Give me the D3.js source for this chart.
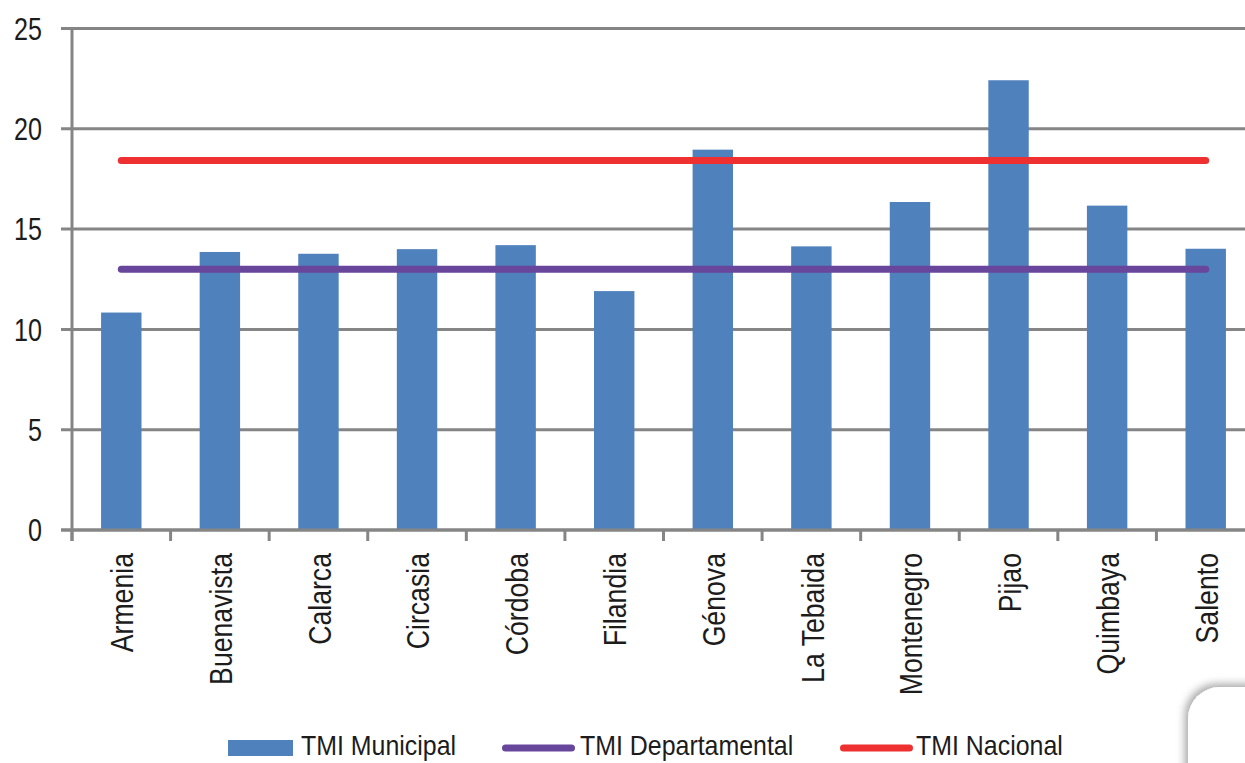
<!DOCTYPE html>
<html>
<head>
<meta charset="utf-8">
<script src="https://cdn.jsdelivr.net/npm/d3@7"></script>
<style>
  html, body { margin: 0; padding: 0; background: #fff; }
  svg { display: block; font-family: "Liberation Sans", Arial, sans-serif; }
</style>
</head>
<body>
<svg id="chart" width="1245" height="763"></svg>
<script>
// municipalities and TMI values
const municipios = ["Armenia", "Buenavista", "Calarca", "Circasia", "Córdoba", "Filandia",
                    "Génova", "La Tebaida", "Montenegro", "Pijao", "Quimbaya", "Salento"];
const tmiMunicipal = [10.84, 13.86, 13.77, 14.0, 14.2, 11.91, 18.96, 14.14, 16.35, 22.42, 16.17, 14.02];
const tmiDepartamental = [13.0, 13.0, 13.0, 13.0, 13.0, 13.0, 13.0, 13.0, 13.0, 13.0, 13.0, 13.0];
const tmiNacional = [18.42, 18.42, 18.42, 18.42, 18.42, 18.42, 18.42, 18.42, 18.42, 18.42, 18.42, 18.42];
const yTicks = [0, 5, 10, 15, 20, 25];
const legendLabels = ["TMI Municipal", "TMI Departamental", "TMI Nacional"];

const colors = { bar: "#4f81bd", depto: "#67469b", nac: "#ee3030", grid: "#858585", text: "#1c1c1c" };

const svg = d3.select("#chart");
const margin = { left: 72, top: 28.5, bottom: 233 };
const height = 763 - margin.top - margin.bottom;

const x = d3.scaleBand().domain(municipios).range([margin.left, 1255]).paddingInner(0.59).paddingOuter(0.295);
const y = d3.scaleLinear().domain([0, 25]).range([margin.top + height, margin.top]);
const cx = d => x(d) + x.bandwidth() / 2;

// gridlines
svg.append("g")
  .selectAll("line")
  .data(yTicks)
  .join("line")
  .attr("x1", margin.left - 11).attr("x2", 1245)
  .attr("y1", d => y(d)).attr("y2", d => y(d))
  .attr("stroke", colors.grid).attr("stroke-width", 3);

// y tick labels (condensed look)
svg.append("g")
  .selectAll("text")
  .data(yTicks)
  .join("text")
  .attr("transform", d => `translate(42,${y(d)}) scale(0.81,1)`)
  .attr("dy", "0.36em")
  .attr("text-anchor", "end")
  .style("font-size", "31px")
  .attr("fill", colors.text)
  .text(d => d);

// bars
svg.append("g")
  .selectAll("rect")
  .data(municipios)
  .join("rect")
  .attr("x", d => x(d))
  .attr("width", x.bandwidth())
  .attr("y", (d, i) => y(tmiMunicipal[i]))
  .attr("height", (d, i) => y(0) - y(tmiMunicipal[i]))
  .attr("fill", colors.bar);

// axes lines
svg.append("line")
  .attr("x1", margin.left).attr("x2", margin.left)
  .attr("y1", y(25) - 1.5).attr("y2", y(0) + 11)
  .attr("stroke", colors.grid).attr("stroke-width", 3);
svg.append("line")
  .attr("x1", margin.left - 11).attr("x2", 1245)
  .attr("y1", y(0)).attr("y2", y(0))
  .attr("stroke", colors.grid).attr("stroke-width", 3);

// category ticks
const step = x.step();
svg.append("g")
  .selectAll("line")
  .data(municipios)
  .join("line")
  .attr("x1", d => cx(d) - step / 2).attr("x2", d => cx(d) - step / 2)
  .attr("y1", y(0)).attr("y2", y(0) + 11)
  .attr("stroke", colors.grid).attr("stroke-width", 3);

// reference lines
const line = d3.line().x(d => cx(d.m)).y(d => y(d.v));
[[tmiDepartamental, colors.depto], [tmiNacional, colors.nac]].forEach(([vals, c]) => {
  svg.append("path")
    .datum(municipios.map((m, i) => ({ m, v: vals[i] })))
    .attr("d", line)
    .attr("fill", "none")
    .attr("stroke", c)
    .attr("stroke-width", 7)
    .attr("stroke-linecap", "round");
});

// category labels
svg.append("g")
  .selectAll("text")
  .data(municipios)
  .join("text")
  .attr("transform", d => `translate(${cx(d) + 1},${y(0) + 23}) rotate(-90) scale(0.86,1)`)
  .attr("dy", "0.36em")
  .attr("text-anchor", "end")
  .style("font-size", "31px")
  .attr("fill", colors.text)
  .text(d => d);

// legend
const leg = svg.append("g").style("font-size", "28px").attr("fill", colors.text);
const legText = (lx, t) => leg.append("text")
  .attr("transform", `translate(${lx},755) scale(0.89,1)`)
  .text(t);
leg.append("rect").attr("x", 228).attr("y", 740).attr("width", 65).attr("height", 16).attr("fill", colors.bar);
legText(301, legendLabels[0]);
leg.append("line").attr("x1", 505.5).attr("x2", 571.5).attr("y1", 748).attr("y2", 748)
  .attr("stroke", colors.depto).attr("stroke-width", 7).attr("stroke-linecap", "round");
legText(580, legendLabels[1]);
leg.append("line").attr("x1", 843.5).attr("x2", 909.5).attr("y1", 748).attr("y2", 748)
  .attr("stroke", colors.nac).attr("stroke-width", 7).attr("stroke-linecap", "round");
legText(916, legendLabels[2]);

// page decoration at bottom-right corner
const defs = svg.append("defs");
const f = defs.append("filter").attr("id", "shadow").attr("x", "-20%").attr("y", "-20%").attr("width", "150%").attr("height", "150%");
f.append("feDropShadow").attr("dx", -3).attr("dy", -3).attr("stdDeviation", 4).attr("flood-color", "#000").attr("flood-opacity", 0.35);
svg.append("rect")
  .attr("x", 1188).attr("y", 687).attr("width", 120).attr("height", 120).attr("rx", 32)
  .attr("fill", "#fff").attr("filter", "url(#shadow)");
</script>
</body>
</html>
